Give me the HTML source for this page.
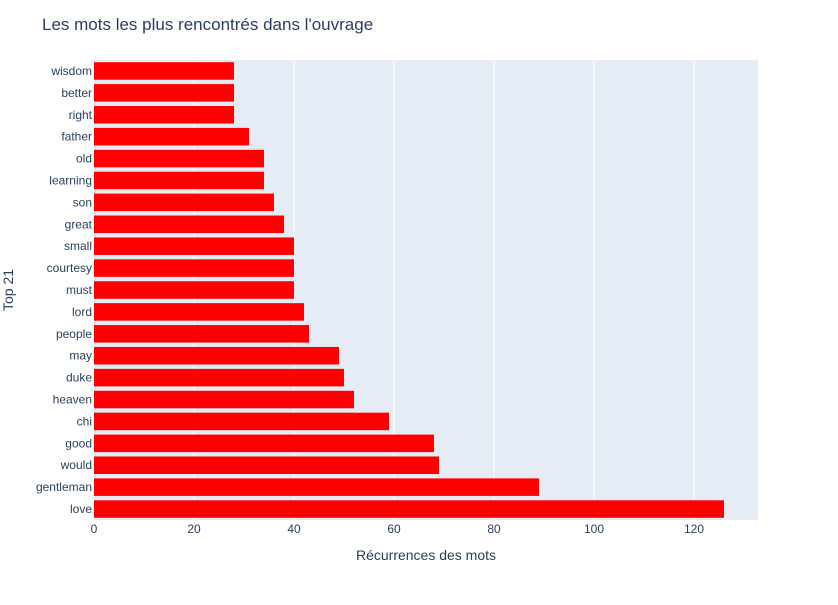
<!DOCTYPE html>
<html><head><meta charset="utf-8"><style>
body{margin:0;background:#fff;font-family:"Liberation Sans",Arial,sans-serif}
svg text{font-family:"Liberation Sans",Arial,sans-serif}
</style></head><body>
<svg id="chart" width="838" height="600" xmlns="http://www.w3.org/2000/svg">
<rect width="838" height="600" fill="#fff"/>
<text x="42" y="30" font-size="17" fill="#2a3f5f">Les mots les plus rencontrés dans l'ouvrage</text>
<rect x="94" y="60" width="664" height="460" fill="#e5ecf6"/>
<g id="grid"></g><g id="bars"></g><g id="xticks"></g><g id="yticks"></g>
<text x="426" y="560" font-size="14" fill="#2a3f5f" text-anchor="middle">Récurrences des mots</text>
<text x="13" y="290" font-size="14" fill="#2a3f5f" text-anchor="middle" transform="rotate(-90 13 290)">Top 21</text>
</svg>
<script>
const categories=["love","gentleman","would","good","chi","heaven","duke","may","people","lord","must","courtesy","small","great","son","learning","old","father","right","better","wisdom"];
const values=[126,89,69,68,59,52,50,49,43,42,40,40,40,38,36,34,34,31,28,28,28];
const xTicks=[0,20,40,60,80,100,120];
const NS="http://www.w3.org/2000/svg";
const x0=94,x1=758,y0=60,y1=520,xmax=132.8;
const xs=v=>x0+v/xmax*(x1-x0);
const band=(y1-y0)/categories.length;
const ys=i=>y1-(i+0.5)*band;
function mk(t,a,p){const e=document.createElementNS(NS,t);for(const k in a)e.setAttribute(k,a[k]);p.appendChild(e);return e;}
const g=document.getElementById('grid'),b=document.getElementById('bars'),xt=document.getElementById('xticks'),yt=document.getElementById('yticks');
xTicks.forEach(v=>{
  if(v>0){const l=mk('line',{x1:xs(v),x2:xs(v),y1:y0,y2:y1,stroke:'#fff','stroke-width':1},g);
  
  }
  const t=mk('text',{x:xs(v),y:533,'font-size':12,fill:'#2a3f5f','text-anchor':'middle'},xt);t.textContent=v;
  
  
});
categories.forEach((c,i)=>{
  const h=band*0.8;
  const r=mk('rect',{x:x0,y:ys(i)-h/2,width:xs(values[i])-x0,height:h,fill:'#ff0000'},b);
  
  
  const t=mk('text',{x:92,y:ys(i)+4,'font-size':12,fill:'#2a3f5f','text-anchor':'end'},yt);t.textContent=c;
  
  
});
</script>
</body></html>
